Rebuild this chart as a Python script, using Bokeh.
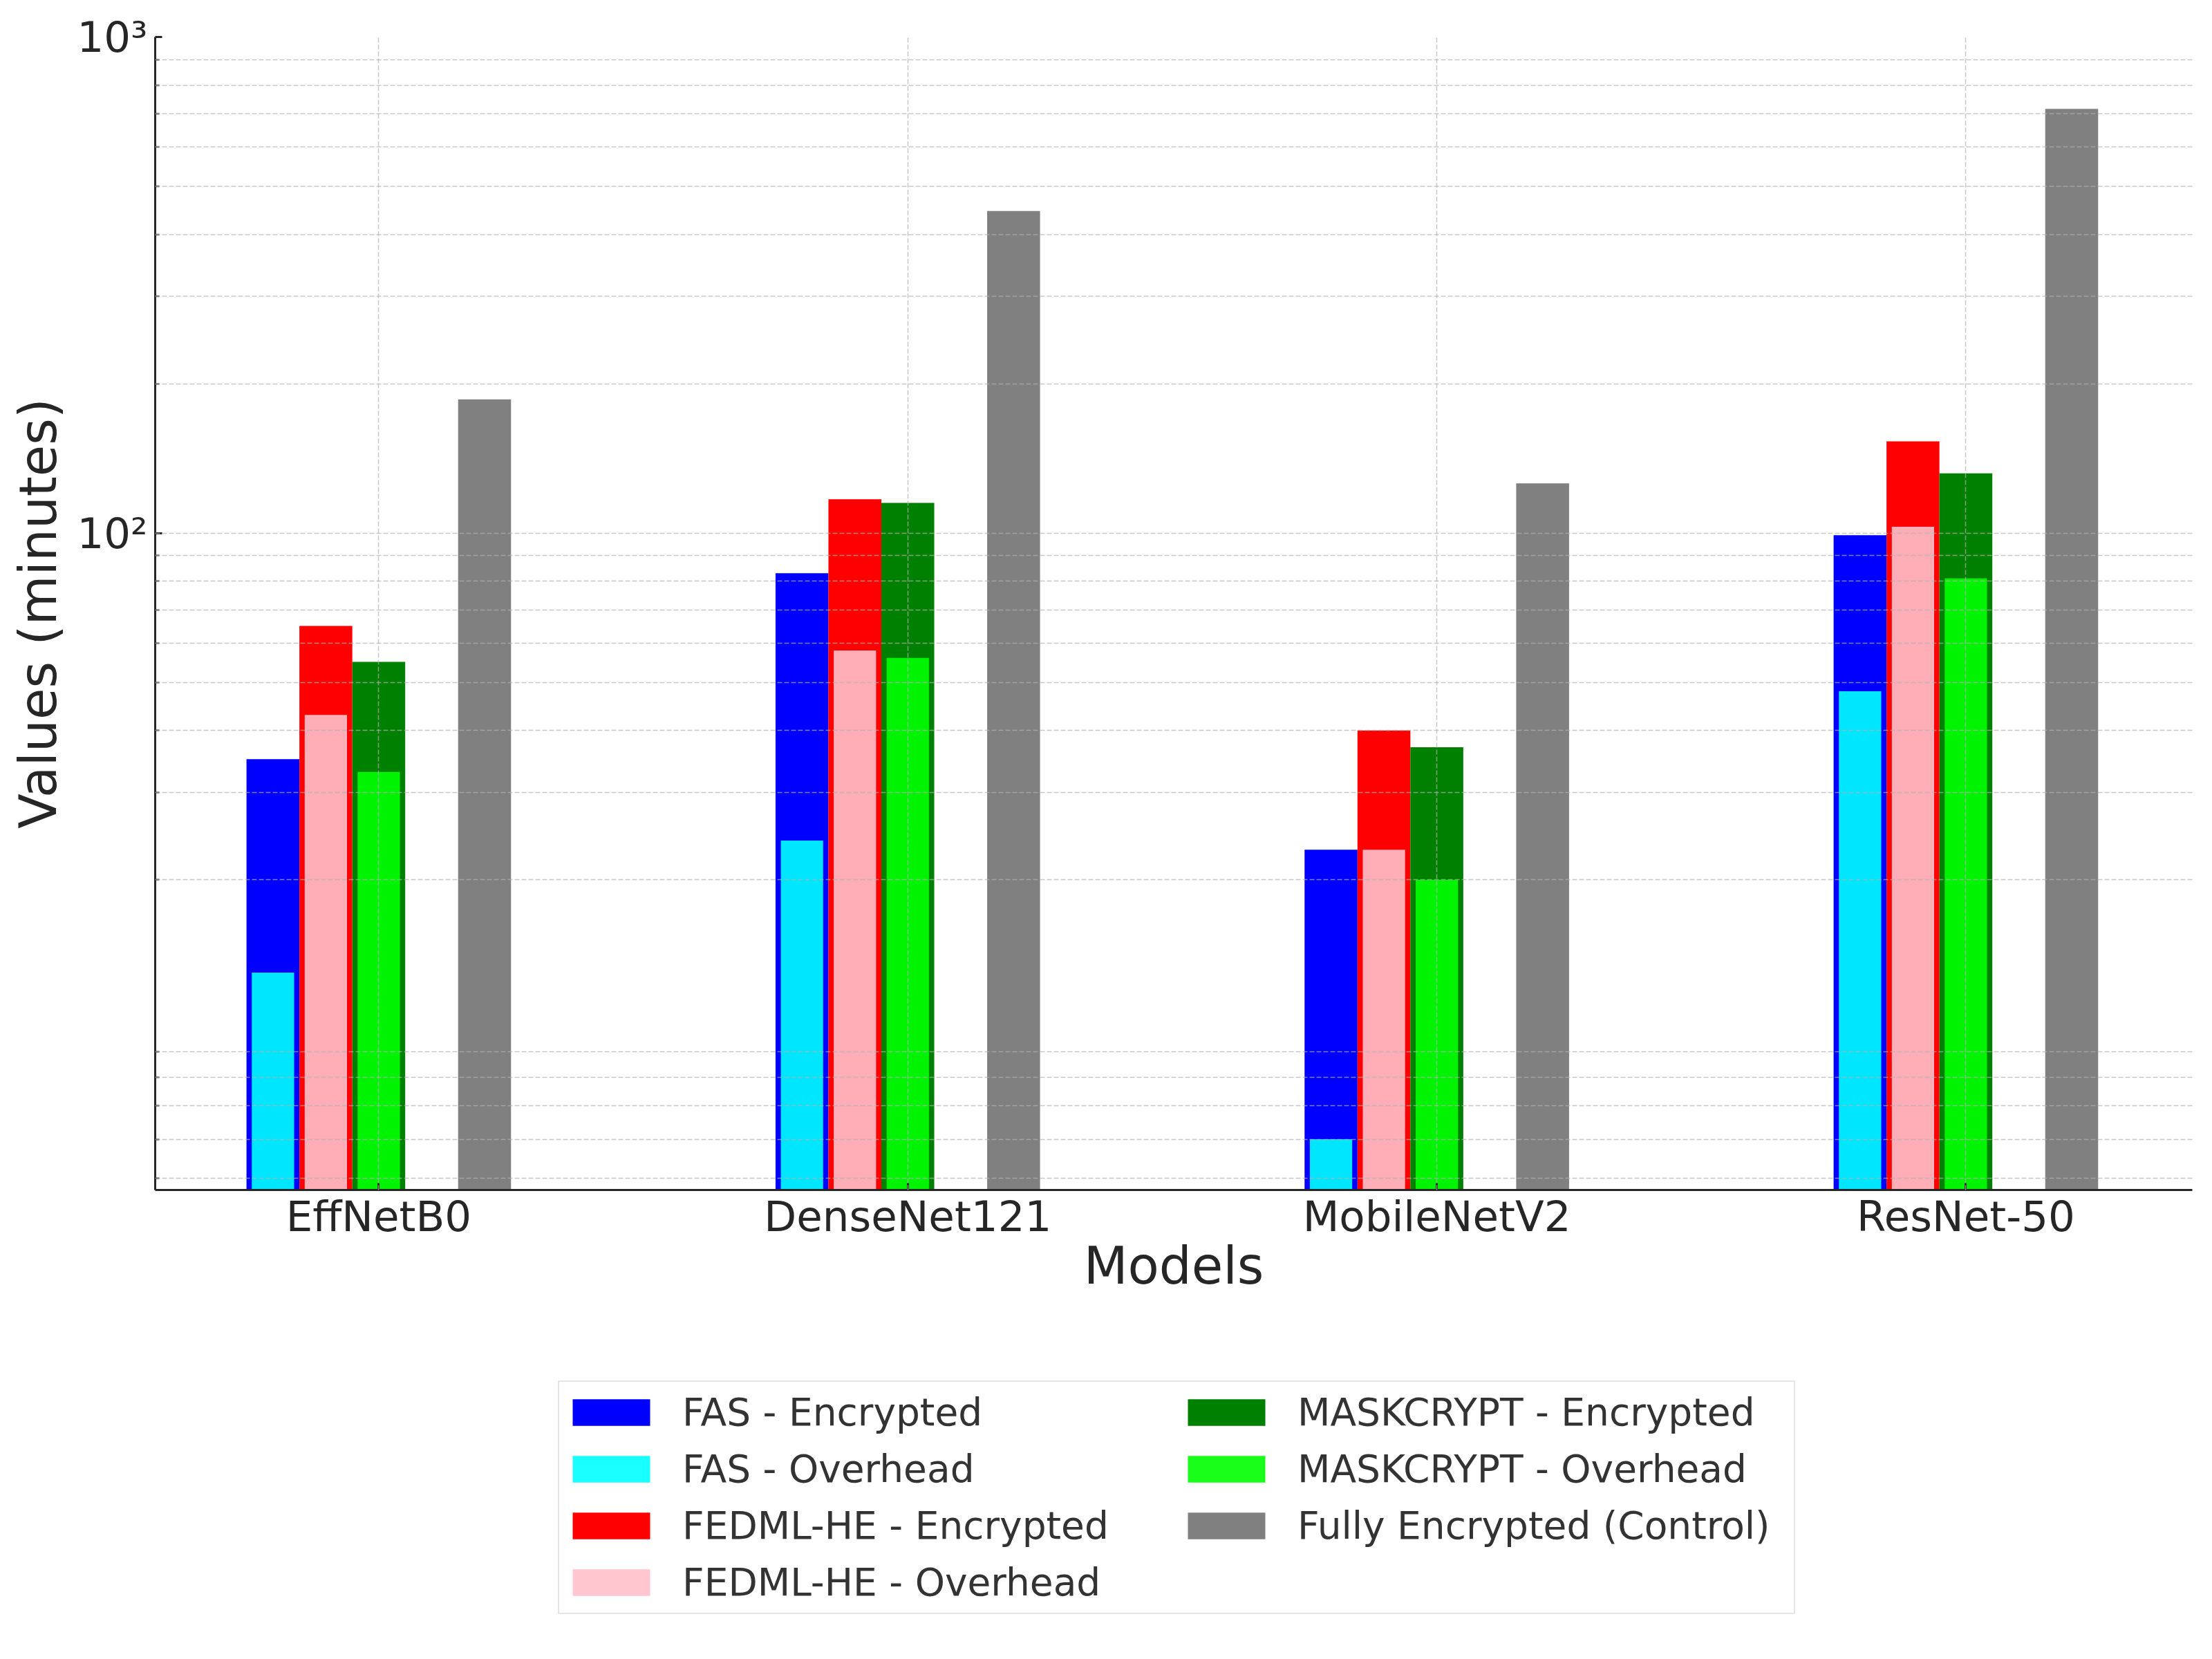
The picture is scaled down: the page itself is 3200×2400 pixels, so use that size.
import numpy as np
from bokeh.plotting import figure
from bokeh.layouts import column
from bokeh.models import (Range1d, FixedTicker, Legend, LegendItem, ColumnDataSource)
from bokeh.embed import file_html
from bokeh.resources import INLINE

# ---- data (minutes) ----
models = ["EffNetB0", "DenseNet121", "MobileNetV2", "ResNet-50"]
fas_encrypted = [35, 83, 23, 99]
fas_overhead = [13, 24, 6, 48]
fedml_encrypted = [65, 117, 40, 153]
fedml_overhead = [43, 58, 23, 103]
mask_encrypted = [55, 115, 37, 132]
mask_overhead = [33, 56, 20, 81]
fully_encrypted = [186, 446, 126, 716]

series_labels = ["FAS - Encrypted", "FAS - Overhead", "FEDML-HE - Encrypted",
                 "FEDML-HE - Overhead", "MASKCRYPT - Encrypted", "MASKCRYPT - Overhead",
                 "Fully Encrypted (Control)"]

y_major = [100, 1000]
y_minor = [5, 6, 7, 8, 9, 20, 30, 40, 50, 60, 70, 80, 90,
           200, 300, 400, 500, 600, 700, 800, 900]

FONT = "DejaVu Sans"
TXT = "#262626"

idx = np.arange(len(models))

W = 3176
p = figure(width=W, height=1921, output_backend="svg", toolbar_location=None,
           y_axis_type="log", x_range=Range1d(-0.4226, 3.428), y_range=Range1d(4.74, 1000),
           min_border_left=224, min_border_right=5, min_border_top=53, min_border_bottom=200)
p.outline_line_color = None
p.background_fill_color = "white"

# legend-only figure below the chart (its bars sit outside its visible ranges)
p2 = figure(width=W, height=469, output_backend="svg", toolbar_location=None,
            x_range=Range1d(100, 101), y_range=Range1d(0, 1),
            x_axis_location=None, y_axis_location=None, min_border=0)
p2.outline_line_color = None
p2.grid.visible = False

bw = 0.1
ow = 0.08

series = [
    (-0.2, fas_encrypted, bw, "blue", 1.0),
    (-0.2, fas_overhead, ow, "cyan", 0.9),
    (-0.1, fedml_encrypted, bw, "red", 1.0),
    (-0.1, fedml_overhead, ow, "pink", 0.9),
    (0.0, mask_encrypted, bw, "green", 1.0),
    (0.0, mask_overhead, ow, "lime", 0.9),
    (0.2, fully_encrypted, bw, "gray", 1.0),
]

legend_items = []
for (offset, vals, width, color, alpha), label in zip(series, series_labels):
    src = ColumnDataSource(dict(x=idx + offset, top=vals))
    p.vbar(x="x", top="top", bottom=1, width=width, source=src,
           fill_color=color, fill_alpha=alpha, line_color=None)
    r2 = p2.vbar(x="x", top="top", bottom=1, width=width, source=src,
                 fill_color=color, fill_alpha=alpha, line_color=None)
    legend_items.append(LegendItem(label=label, renderers=[r2]))

# axes
p.xaxis.ticker = FixedTicker(ticks=list(idx))
p.xaxis.major_label_overrides = {int(i): m for i, m in zip(idx, models)}
p.yaxis.ticker = FixedTicker(ticks=y_major, minor_ticks=y_minor)
p.yaxis.major_label_overrides = {100: "10²", 1000: "10³"}

for ax in (p.xaxis[0], p.yaxis[0]):
    ax.axis_line_color = TXT
    ax.axis_line_width = 3
    ax.major_tick_line_color = TXT
    ax.major_tick_line_width = 3
    ax.minor_tick_line_color = TXT
    ax.minor_tick_line_width = 2
    ax.major_tick_in = 10
    ax.major_tick_out = 0
    ax.minor_tick_in = 6
    ax.minor_tick_out = 0
    ax.major_label_text_font = FONT
    ax.major_label_text_font_size = "61px"
    ax.major_label_text_color = TXT
    ax.axis_label_text_font = FONT
    ax.axis_label_text_font_size = "74px"
    ax.axis_label_text_font_style = "normal"
    ax.axis_label_text_color = TXT

p.xaxis.minor_tick_line_color = None
p.xaxis.axis_label = "Models"
p.yaxis.axis_label = "Values (minutes)"
p.xaxis.major_label_standoff = 2
p.xaxis.axis_label_standoff = -10
p.yaxis.major_label_standoff = 11
p.yaxis.axis_label_standoff = 10

# grids (dashed, drawn above bars)
for g in (p.xgrid[0], p.ygrid[0]):
    g.grid_line_color = "#b0b0b0"
    g.grid_line_alpha = 0.7
    g.grid_line_width = 1.5
    g.grid_line_dash = "7 3"
    g.level = "overlay"
p.ygrid.minor_grid_line_color = "#b0b0b0"
p.ygrid.minor_grid_line_alpha = 0.7
p.ygrid.minor_grid_line_width = 1.5
p.ygrid.minor_grid_line_dash = "7 3"

legend = Legend(items=legend_items, location=(583, 55), orientation="vertical", nrows=4)
legend.glyph_width = 140
legend.glyph_height = 48
legend.label_standoff = 33
legend.label_text_font = FONT
legend.label_text_font_size = "55px"
legend.label_text_color = "#333333"
legend.label_height = 78
legend.label_width = 713
legend.spacing = 4
legend.padding = 5
legend.margin = 0
legend.border_line_color = "#cccccc"
legend.border_line_width = 2
legend.background_fill_color = "white"
legend.background_fill_alpha = 0.8
p2.add_layout(legend, "center")

layout = column(p, p2, spacing=0)
open("out.html", "w").write(file_html(layout, INLINE))
